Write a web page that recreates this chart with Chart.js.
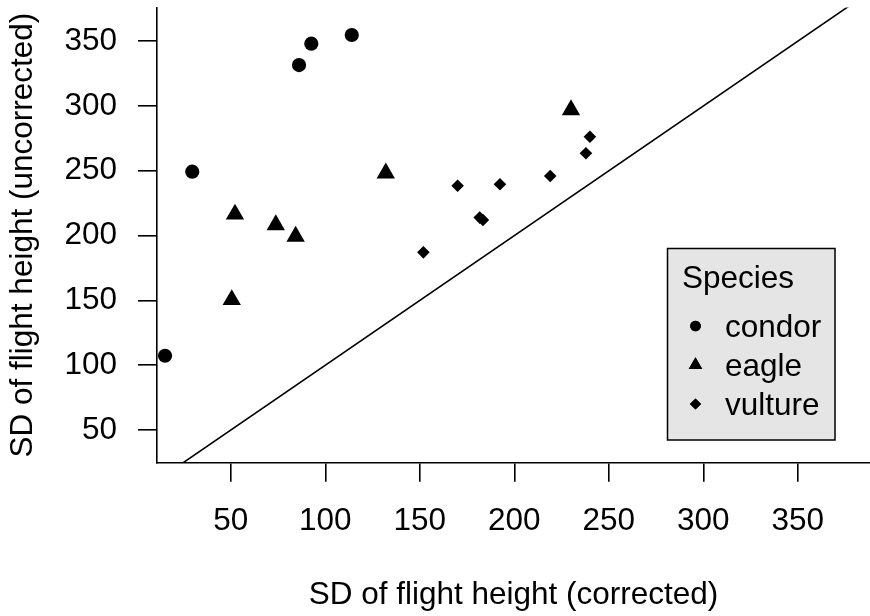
<!DOCTYPE html>
<html><head><meta charset="utf-8">
<script src="https://cdn.jsdelivr.net/npm/chart.js@4/dist/chart.umd.min.js"></script>
<style>html,body{margin:0;padding:0;background:#fff;overflow:hidden}canvas{display:block}</style>
</head><body>
<canvas id="c" width="870" height="616"></canvas>
<script>
// ---- data ----
const speciesNames = ['condor', 'eagle', 'vulture'];
const condorX  = [15.2, 29.6, 86.1, 92.6, 114.0];
const condorY  = [107.3, 249.3, 331.6, 348.1, 354.8];
const eagleX   = [50.5, 52.2, 73.8, 84.3, 132.0, 230.0];
const eagleY   = [150.5, 216.5, 208.3, 199.4, 248.2, 297.0];
const vultureX = [151.9, 170.0, 181.7, 183.4, 192.4, 219.0, 237.9, 240.0];
const vultureY = [187.1, 238.5, 213.9, 212.0, 239.6, 246.0, 263.5, 276.3];
const xTicks = [50, 100, 150, 200, 250, 300, 350];
const yTicks = [50, 100, 150, 200, 250, 300, 350];
const refLine = [0, 400];   // 1:1 line, y = x
const xTitle = 'SD of flight height (corrected)';
const yTitle = 'SD of flight height (uncorrected)';
const legendTitle = 'Species';

const FONT = "'Liberation Sans', Arial, Helvetica, sans-serif";
const FS = 31.5;
Chart.defaults.font.family = FONT;
Chart.defaults.font.size = FS;
Chart.defaults.color = '#000';

const pts = (xs, ys) => xs.map((x, i) => ({x: x, y: ys[i]}));
const styles = {condor: ['circle', 7.1, 5.3], eagle: ['triangle', 10.6, 7.8], vulture: ['rectRot', 6.3, 5.6]};
const seriesData = {condor: pts(condorX, condorY), eagle: pts(eagleX, eagleY), vulture: pts(vultureX, vultureY)};

const datasets = speciesNames.map(n => ({
  type: 'scatter', label: n, data: seriesData[n],
  pointStyle: styles[n][0], pointRadius: styles[n][1], legendRadius: styles[n][2],
  backgroundColor: '#000', borderColor: '#000', borderWidth: 0, order: 0
}));
datasets.push({
  type: 'line', label: '1:1', data: refLine.map(v => ({x: v, y: v})),
  borderColor: '#000', borderWidth: 1.6, pointRadius: 0, fill: false, order: 1, isRef: true
});

const legendBox = {
  id: 'legendBox',
  afterDatasetsDraw(chart) {
    const ctx = chart.ctx;
    ctx.save();
    const L = 667.5, T = 248.5, W = 167.5, H = 191.5;
    ctx.fillStyle = '#e5e5e5';
    ctx.fillRect(L, T, W, H);
    ctx.strokeStyle = '#000'; ctx.lineWidth = 1.5;
    ctx.strokeRect(L, T, W, H);
    ctx.fillStyle = '#000';
    ctx.font = FS + 'px ' + FONT;
    ctx.textBaseline = 'alphabetic'; ctx.textAlign = 'left';
    ctx.fillText(legendTitle, 682, 287.5);
    const items = chart.data.datasets.filter(d => !d.isRef);
    items.forEach((d, i) => {
      const base = 337 + i * 39;
      Chart.helpers.drawPoint(ctx, {pointStyle: d.pointStyle, radius: d.legendRadius, rotation: 0, borderWidth: 0}, 695.5, base - 11);
      ctx.fillStyle = '#000';
      ctx.fill();
      ctx.fillText(d.label, 725, base);
    });
    ctx.restore();
  }
};

const zeroPad = s => { s.paddingTop = 0; s.paddingBottom = 0; s.paddingLeft = 0; s.paddingRight = 0; };

new Chart(document.getElementById('c'), {
  data: {datasets: datasets},
  options: {
    responsive: false, animation: false,
    layout: {autoPadding: false, padding: {top: 7.5, left: 0, right: 0, bottom: 0}},
    plugins: {legend: {display: false}, tooltip: {enabled: false}},
    scales: {
      x: {
        type: 'linear', position: 'bottom', min: 10.95, max: 388.2,
        afterBuildTicks: s => { s.ticks = xTicks.map(v => ({value: v})); },
        afterFit: s => { s.height = 153.3; zeroPad(s); },
        grid: {drawOnChartArea: false, drawTicks: true, tickLength: 19, color: '#000', lineWidth: 1.6},
        border: {display: true, color: '#000', width: 1.6},
        ticks: {padding: 21, maxRotation: 0, autoSkip: false, color: '#000', font: {size: FS}},
        title: {display: true, text: xTitle, color: '#000', font: {size: FS}, padding: {top: 0, bottom: 2}}
      },
      y: {
        type: 'linear', position: 'left', min: 24.8, max: 376,
        afterBuildTicks: s => { s.ticks = yTicks.map(v => ({value: v})); },
        afterFit: s => { s.width = 157; zeroPad(s); },
        grid: {drawOnChartArea: false, drawTicks: true, tickLength: 19, color: '#000', lineWidth: 1.6},
        border: {display: true, color: '#000', width: 1.6},
        ticks: {padding: 21, autoSkip: false, color: '#000', font: {size: FS}},
        title: {display: true, text: yTitle, color: '#000', font: {size: FS}, padding: {top: 4, bottom: 0}}
      }
    }
  },
  plugins: [legendBox]
});
</script>
</body></html>
